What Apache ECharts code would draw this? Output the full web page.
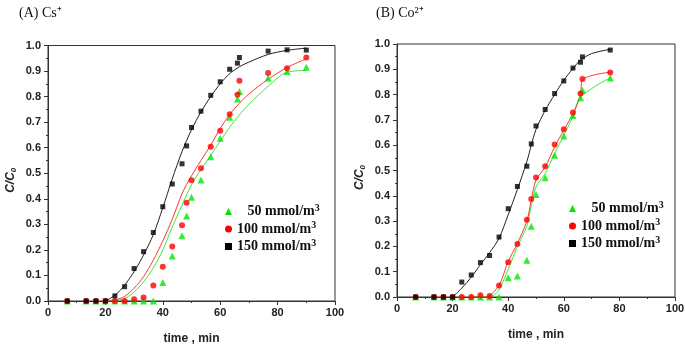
<!DOCTYPE html>
<html>
<head>
<meta charset="utf-8">
<script src="https://cdn.jsdelivr.net/npm/echarts@6/dist/echarts.min.js"></script>
<style>
  html, body { margin: 0; padding: 0; background: #fff; }
  #main { width: 685px; height: 346px; }
</style>
</head>
<body>
<div id="main"></div>
<script>
// measured points, panel A (Cs+)
const timeA = [6.7, 13.3, 16.7, 20, 23.3, 26.7, 30, 33.3, 36.7, 40, 43.3, 46.7, 48.3, 50, 53.3, 56.7, 60, 63.3, 66, 66.7, 76.7, 83.3, 90];
const a50 = [0, 0, 0, 0, 0, 0, 0, 0, 0, 0.072, 0.176, 0.255, 0.333, 0.406, 0.474, 0.565, 0.637, 0.719, 0.791, 0.82, 0.873, 0.898, 0.915];
const a100 = [0, 0, 0, 0, 0, 0, 0.007, 0.014, 0.061, 0.134, 0.213, 0.296, 0.385, 0.473, 0.52, 0.604, 0.666, 0.731, 0.807, 0.862, 0.892, 0.911, 0.953];
const a150 = [0, 0, 0, 0, 0.02, 0.056, 0.127, 0.193, 0.268, 0.369, 0.458, 0.537, 0.607, 0.679, 0.743, 0.805, 0.858, 0.907, 0.931, 0.953, 0.978, 0.983, 0.982];

// fitted curves, panel A
const fitTimeA = [20, 23.3, 26.7, 30, 33.3, 36.7, 40, 43.3, 46.7, 50, 53.3, 56.7, 60, 63.3, 66.7, 70, 76.7, 83.3, 90];
const fitA50 = [0, 0.002, 0.01, 0.035, 0.075, 0.13, 0.2, 0.29, 0.375, 0.455, 0.515, 0.57, 0.625, 0.68, 0.728, 0.77, 0.84, 0.896, 0.902];
const fitA100 = [0, 0.004, 0.018, 0.05, 0.095, 0.16, 0.235, 0.32, 0.42, 0.49, 0.55, 0.61, 0.675, 0.73, 0.774, 0.81, 0.868, 0.914, 0.948];
const fitA150 = [0, 0.022, 0.062, 0.115, 0.18, 0.26, 0.365, 0.478, 0.585, 0.67, 0.74, 0.8, 0.85, 0.89, 0.917, 0.935, 0.965, 0.981, 0.99];

// measured points, panel B (Co2+)
const timeB = [6.7, 13.3, 16.7, 20, 23.3, 26.7, 30, 33.3, 36.7, 40, 43.3, 46.7, 48.3, 50, 53.3, 56.7, 60, 63.3, 66, 66.7, 76.7];
const b50 = [0, 0, 0, 0, 0, 0, 0, 0, 0, 0.076, 0.083, 0.145, 0.28, 0.405, 0.471, 0.56, 0.636, 0.717, 0.788, 0.817, 0.866];
const b100 = [0, 0, 0, 0, 0, 0, 0.007, 0.004, 0.045, 0.137, 0.209, 0.305, 0.387, 0.472, 0.517, 0.603, 0.663, 0.729, 0.804, 0.862, 0.887];
const b150 = [0, 0, 0, 0, 0.059, 0.087, 0.136, 0.164, 0.237, 0.349, 0.437, 0.517, 0.605, 0.676, 0.741, 0.804, 0.854, 0.905, 0.928, 0.949, 0.976];

// fitted curves, panel B
const fitTimeB50 = [26.7, 33.3, 34.5, 36.7, 40, 43.3, 46.7, 48.3, 50, 53.3, 56.7, 60, 63.3, 66, 76.7];
const fitB50 = [0, 0, 0.005, 0.028, 0.11, 0.199, 0.28, 0.359, 0.435, 0.488, 0.567, 0.639, 0.714, 0.79, 0.867];
const fitTimeB100 = [26.7, 32, 33.3, 36.7, 40, 43.3, 46.7, 48.3, 50, 53.3, 56.7, 60, 63.3, 66, 66.7, 76.7];
const fitB100 = [0, 0, 0.005, 0.045, 0.14, 0.212, 0.3, 0.383, 0.462, 0.514, 0.593, 0.659, 0.725, 0.797, 0.859, 0.889];
const fitTimeB150 = [20, 23.3, 26.7, 30, 33.3, 36.7, 40, 43.3, 46.7, 48.3, 50, 53.3, 56.7, 60, 63.3, 66, 70, 76.7];
const fitB150 = [0, 0.035, 0.078, 0.128, 0.175, 0.232, 0.325, 0.425, 0.535, 0.6, 0.662, 0.738, 0.8, 0.857, 0.903, 0.936, 0.962, 0.979];

const names = ['50 mmol/m³', '100 mmol/m³', '150 mmol/m³'];
const colors = ['#00e600', '#ff0000', '#000000'];
const lineColors = ['#33ee33', '#ff3333', '#222222'];
const symbols = ['triangle', 'circle', 'rect'];
const symbolSizes = [7, 6, 5];

const zip = (xs, ys) => xs.map((x, i) => [x, ys[i]]);

const chart = echarts.init(document.getElementById('main'));

const sans = 'Liberation Sans, Arial, sans-serif';
const serif = 'Liberation Serif, Times New Roman, serif';

function xAxisFor(gi) {
  return {
    gridIndex: gi,
    type: 'value',
    min: 0, max: 100, interval: 20,
    name: 'time , min',
    nameLocation: 'middle',
    nameGap: 32,
    nameTextStyle: { fontFamily: sans, fontWeight: 'bold', fontSize: 12, color: '#222' },
    axisLine: { lineStyle: { color: '#333', width: 1 } },
    axisTick: { length: 4, lineStyle: { color: '#333' } },
    minorTick: { show: true, splitNumber: 2, length: 2, lineStyle: { color: '#333' } },
    axisLabel: { fontFamily: sans, fontWeight: 'bold', fontSize: 11, color: '#222', margin: 6 },
    splitLine: { show: false }
  };
}

function yAxisFor(gi) {
  return {
    gridIndex: gi,
    type: 'value',
    min: 0, max: 1, interval: 0.1,
    name: '{a|C/C}{b|0}',
    nameLocation: 'middle',
    nameRotate: 90,
    nameGap: 30,
    nameTextStyle: {
      padding: [0, 14, 0, 0],
      rich: {
        a: { fontFamily: sans, fontWeight: 'bold', fontStyle: 'italic', fontSize: 12, color: '#222' },
        b: { fontFamily: sans, fontWeight: 'bold', fontStyle: 'italic', fontSize: 8, color: '#222', padding: [6, 0, 0, 0] }
      }
    },
    axisLine: { lineStyle: { color: '#333', width: 1 } },
    axisTick: { length: 4, lineStyle: { color: '#333' } },
    minorTick: { show: true, splitNumber: 2, length: 2, lineStyle: { color: '#333' } },
    axisLabel: { fontFamily: sans, fontWeight: 'bold', fontSize: 11, color: '#222', margin: 7,
      formatter: v => v.toFixed(1) },
    splitLine: { show: false }
  };
}

function panelSeries(gi, fits, pts) {
  const out = [];
  fits.forEach((f, i) => {
    out.push({
      name: names[i], type: 'line', xAxisIndex: gi, yAxisIndex: gi,
      data: f, showSymbol: false, smooth: 0.3,
      lineStyle: { color: lineColors[i], width: 1 },
      itemStyle: { color: colors[i] }, z: 2
    });
  });
  pts.forEach((p, i) => {
    out.push({
      name: names[i], type: 'scatter', xAxisIndex: gi, yAxisIndex: gi,
      data: p, symbol: symbols[i], symbolSize: symbolSizes[i],
      itemStyle: { color: colors[i] }, z: 3
    });
  });
  return out;
}

function legendFor(left, top) {
  return {
    orient: 'vertical', left, top,
    itemGap: 2, itemWidth: 7, itemHeight: 7,
    data: names.map((n, i) => ({ name: n, icon: symbols[i], itemStyle: { color: colors[i] } })),
    formatter: n => {
      const base = n.replace('³', '');
      return (n.startsWith('50') ? '{t|\u2002 ' + base + '}' : '{t|' + base + '}') + '{s|3}';
    },
    textStyle: {
      rich: {
        t: { fontFamily: serif, fontWeight: 'bold', fontSize: 14, color: '#111' },
        s: { fontFamily: serif, fontWeight: 'bold', fontSize: 10, color: '#111', padding: [0, 0, 7, 0] }
      }
    },
    selectedMode: false
  };
}

chart.setOption({
  animation: false,
  title: [
    { text: '(A) Cs⁺', left: 14, top: 1, textStyle: { fontFamily: serif, fontWeight: 'normal', fontSize: 14, color: '#111' } },
    { text: '(B) Co²⁺', left: 371, top: 1, textStyle: { fontFamily: serif, fontWeight: 'normal', fontSize: 14, color: '#111' } }
  ],
  legend: [legendFor(220, 198), legendFor(564, 195)],
  grid: [
    { left: 48, top: 45.5, width: 287, height: 255.5, show: true, borderColor: '#333', borderWidth: 1, outerBoundsMode: 'none' },
    { left: 397, top: 44, width: 278, height: 253, show: true, borderColor: '#333', borderWidth: 1, outerBoundsMode: 'none' }
  ],
  xAxis: [xAxisFor(0), xAxisFor(1)],
  yAxis: [yAxisFor(0), yAxisFor(1)],
  series: [
    ...panelSeries(0,
      [zip(fitTimeA, fitA50), zip(fitTimeA, fitA100), zip(fitTimeA, fitA150)],
      [zip(timeA, a50), zip(timeA, a100), zip(timeA, a150)]),
    ...panelSeries(1,
      [zip(fitTimeB50, fitB50), zip(fitTimeB100, fitB100), zip(fitTimeB150, fitB150)],
      [zip(timeB, b50), zip(timeB, b100), zip(timeB, b150)])
  ]
});
</script>
</body>
</html>
